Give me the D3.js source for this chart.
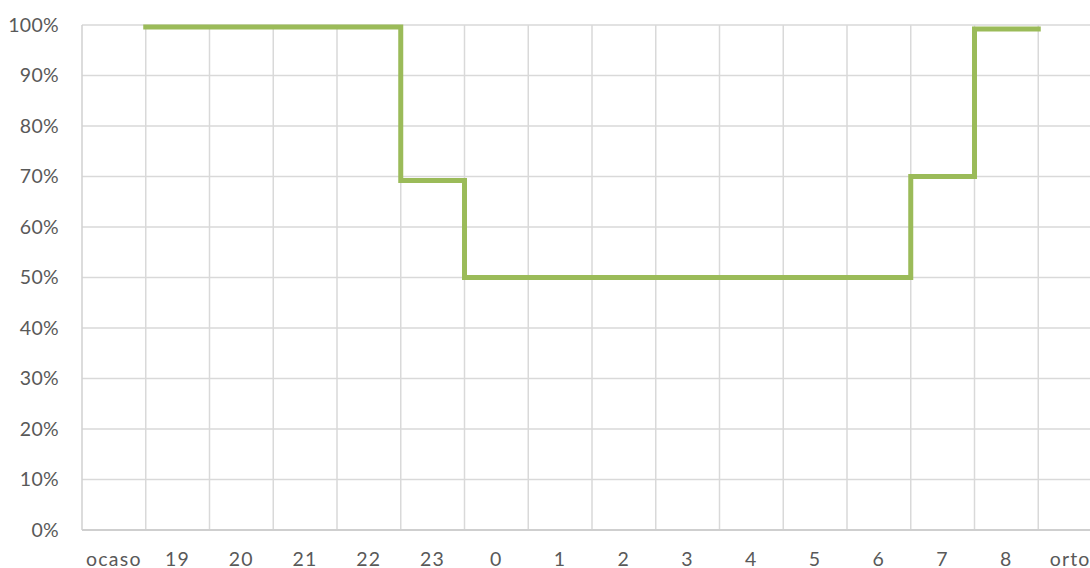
<!DOCTYPE html>
<html>
<head>
<meta charset="utf-8">
<script src="https://cdn.jsdelivr.net/npm/d3@7"></script>
<style>
  body { margin: 0; background: #fff; }
  svg { display: block; }
  text { font-family: Lato, "Open Sans", sans-serif; fill: #595959; }
</style>
</head>
<body>
<svg width="1090" height="568"></svg>
<script>
// categories along the x axis
const CATEGORIES = ["ocaso", "19", "20", "21", "22", "23", "0", "1", "2", "3", "4", "5", "6", "7", "8", "orto"];
// hours that carry a value (step line), share in percent
const HOURS = ["19", "20", "21", "22", "23", "0", "1", "2", "3", "4", "5", "6", "7", "8"];
const VALUES = [99.6, 99.6, 99.6, 99.6, 69.2, 50, 50, 50, 50, 50, 50, 50, 70, 99.2];
const Y_TICKS = [0, 10, 20, 30, 40, 50, 60, 70, 80, 90, 100];

const plotLeft = 82, plotTop = 25, plotBottom = 530;
const bandW = 63.75;

const xScale = d3.scaleBand()
    .domain(CATEGORIES)
    .range([plotLeft, plotLeft + bandW * CATEGORIES.length])
    .padding(0);

const yScale = d3.scaleLinear()
    .domain([0, 100])
    .range([plotBottom, plotTop]);

const svg = d3.select('svg');

// horizontal gridlines
svg.append('g')
    .selectAll('line')
    .data(Y_TICKS.filter(d => d > 0))
    .enter()
    .append('line')
    .attr('x1', plotLeft)
    .attr('x2', 1090)
    .attr('y1', d => yScale(d))
    .attr('y2', d => yScale(d))
    .attr('stroke', '#d9d9d9')
    .attr('stroke-width', 1.5);

// vertical gridlines at category boundaries
svg.append('g')
    .selectAll('line')
    .data(CATEGORIES.slice(1))
    .enter()
    .append('line')
    .attr('x1', d => xScale(d))
    .attr('x2', d => xScale(d))
    .attr('y1', plotTop)
    .attr('y2', plotBottom)
    .attr('stroke', '#d9d9d9')
    .attr('stroke-width', 1.5);

// axis lines
svg.append('line')
    .attr('x1', plotLeft).attr('x2', plotLeft)
    .attr('y1', plotTop).attr('y2', plotBottom)
    .attr('stroke', '#d0d0d0').attr('stroke-width', 1.5);
svg.append('line')
    .attr('x1', plotLeft).attr('x2', 1090)
    .attr('y1', plotBottom).attr('y2', plotBottom)
    .attr('stroke', '#cfcfcf').attr('stroke-width', 2);

// y labels
svg.append('g')
    .selectAll('text')
    .data(Y_TICKS)
    .enter()
    .append('text')
    .attr('x', 59)
    .attr('y', d => yScale(d))
    .attr('dy', '0.35em')
    .attr('text-anchor', 'end')
    .attr('font-size', 19.5)
    .attr('letter-spacing', 0.3)
    .text(d => d + '%');

// x labels
svg.append('g')
    .selectAll('text')
    .data(CATEGORIES)
    .enter()
    .append('text')
    .attr('x', d => xScale(d) + bandW / 2)
    .attr('y', 565.5)
    .attr('text-anchor', 'middle')
    .attr('font-size', 19.5)
    .attr('letter-spacing', 1.2)
    .text(d => d);

// step line: each hour holds its value across its band
const points = HOURS.map((h, i) => [xScale(h), yScale(VALUES[i])]);
const lastH = HOURS[HOURS.length - 1];
points.push([xScale(lastH) + bandW, yScale(VALUES[VALUES.length - 1])]);

const line = d3.line().curve(d3.curveStepAfter);

svg.append('path')
    .attr('d', line(points))
    .attr('fill', 'none')
    .attr('stroke', '#9bbb59')
    .attr('stroke-width', 5)
    .attr('stroke-linejoin', 'miter')
    .attr('stroke-linecap', 'square');
</script>
</body>
</html>
